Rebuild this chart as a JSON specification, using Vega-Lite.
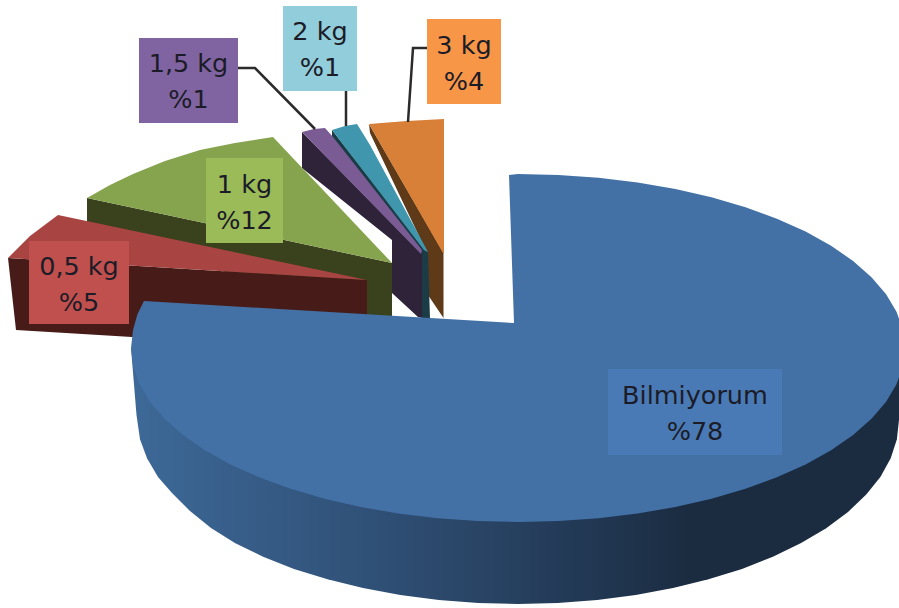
{
  "$schema": "https://vega.github.io/schema/vega-lite/v6.json",
  "width": 899,
  "height": 608,
  "padding": 0,
  "autosize": "none",
  "background": "#ffffff",
  "view": {"stroke": null},
  "datasets": {
    "wedges": [
      {"part":"3 kg side","i":1,"x":369,"y":124},{"part":"3 kg side","i":2,"x":443.5,"y":253},{"part":"3 kg side","i":3,"x":443.5,"y":318},{"part":"3 kg side","i":4,"x":428,"y":295},{"part":"3 kg side","i":5,"x":428,"y":255},{"part":"3 kg side","i":6,"x":370,"y":133},
      {"part":"3 kg top","i":1,"x":369,"y":124},{"part":"3 kg top","i":2,"x":407,"y":121},{"part":"3 kg top","i":3,"x":444,"y":119},{"part":"3 kg top","i":4,"x":444,"y":253},{"part":"3 kg top","i":5,"x":443,"y":253},
      {"part":"2 kg side","i":1,"x":332,"y":130},{"part":"2 kg side","i":2,"x":428,"y":253},{"part":"2 kg side","i":3,"x":430,"y":319},{"part":"2 kg side","i":4,"x":422,"y":319},{"part":"2 kg side","i":5,"x":420,"y":250},{"part":"2 kg side","i":6,"x":332,"y":137},
      {"part":"2 kg top","i":1,"x":332,"y":130},{"part":"2 kg top","i":2,"x":345,"y":126},{"part":"2 kg top","i":3,"x":357,"y":124},{"part":"2 kg top","i":4,"x":370,"y":145},{"part":"2 kg top","i":5,"x":428,"y":252},{"part":"2 kg top","i":6,"x":424,"y":250},
      {"part":"1,5 kg side","i":1,"x":302,"y":132},{"part":"1,5 kg side","i":2,"x":422,"y":254},{"part":"1,5 kg side","i":3,"x":422,"y":318},{"part":"1,5 kg side","i":4,"x":418,"y":317},{"part":"1,5 kg side","i":5,"x":392,"y":293},{"part":"1,5 kg side","i":6,"x":392,"y":240},{"part":"1,5 kg side","i":7,"x":302,"y":168},
      {"part":"1,5 kg top","i":1,"x":302,"y":132},{"part":"1,5 kg top","i":2,"x":314,"y":129},{"part":"1,5 kg top","i":3,"x":325,"y":128},{"part":"1,5 kg top","i":4,"x":333,"y":137},{"part":"1,5 kg top","i":5,"x":422,"y":250},{"part":"1,5 kg top","i":6,"x":421,"y":254},
      {"part":"1 kg side","i":1,"x":87,"y":198},{"part":"1 kg side","i":2,"x":392,"y":263},{"part":"1 kg side","i":3,"x":392,"y":318},{"part":"1 kg side","i":4,"x":360,"y":318},{"part":"1 kg side","i":5,"x":87,"y":225},
      {"part":"1 kg top","i":1,"x":87,"y":198},{"part":"1 kg top","i":2,"x":110,"y":185},{"part":"1 kg top","i":3,"x":133,"y":174},{"part":"1 kg top","i":4,"x":165,"y":161},{"part":"1 kg top","i":5,"x":200,"y":150},{"part":"1 kg top","i":6,"x":235,"y":143},{"part":"1 kg top","i":7,"x":273,"y":137},{"part":"1 kg top","i":8,"x":392,"y":263},
      {"part":"0,5 kg side","i":1,"x":8,"y":258},{"part":"0,5 kg side","i":2,"x":367,"y":280},{"part":"0,5 kg side","i":3,"x":367,"y":325},{"part":"0,5 kg side","i":4,"x":132,"y":337},{"part":"0,5 kg side","i":5,"x":16,"y":330},
      {"part":"0,5 kg top","i":1,"x":8,"y":258},{"part":"0,5 kg top","i":2,"x":30,"y":236},{"part":"0,5 kg top","i":3,"x":58,"y":215},{"part":"0,5 kg top","i":4,"x":367,"y":280}
    ],
    "bigSide": [
      {"i":1,"x":905,"y":348},{"i":2,"x":899,"y":420},{"i":3,"x":896.9,"y":439.2},{"i":4,"x":890.7,"y":458.3},{"i":5,"x":880.4,"y":476.9},{"i":6,"x":866,"y":494.8},{"i":7,"x":848,"y":512},{"i":8,"x":826.2,"y":528.2},{"i":9,"x":801.1,"y":543.1},{"i":10,"x":772.9,"y":556.7},{"i":11,"x":742,"y":568.9},{"i":12,"x":708.5,"y":579.3},{"i":13,"x":673,"y":588.1},{"i":14,"x":635.7,"y":595},{"i":15,"x":597.2,"y":600},{"i":16,"x":557.8,"y":603},{"i":17,"x":518,"y":604},
      {"i":18,"x":478.2,"y":603},{"i":19,"x":438.8,"y":600},{"i":20,"x":400.3,"y":595},{"i":21,"x":363,"y":588.1},{"i":22,"x":327.5,"y":579.3},{"i":23,"x":294,"y":568.9},{"i":24,"x":263.1,"y":556.7},{"i":25,"x":234.9,"y":543.1},{"i":26,"x":211,"y":528},{"i":27,"x":190,"y":511},{"i":28,"x":172,"y":493},{"i":29,"x":158,"y":477},{"i":30,"x":147,"y":458.3},{"i":31,"x":140,"y":439.2},{"i":32,"x":136.5,"y":415},{"i":33,"x":131,"y":348}
    ],
    "bigTop": [
      {"i":1,"x":509,"y":175},{"i":2,"x":518,"y":174},{"i":3,"x":558.4,"y":175},{"i":4,"x":598.5,"y":177.8},{"i":5,"x":637.6,"y":182.5},{"i":6,"x":675.4,"y":189},{"i":7,"x":711.5,"y":197.3},{"i":8,"x":745.5,"y":207.2},{"i":9,"x":776.9,"y":218.7},{"i":10,"x":805.6,"y":231.6},{"i":11,"x":831.1,"y":245.7},{"i":12,"x":853.1,"y":261},{"i":13,"x":871.5,"y":277.2},{"i":14,"x":886.1,"y":294.2},{"i":15,"x":896.5,"y":311.8},{"i":16,"x":902.9,"y":329.8},{"i":17,"x":905,"y":348},
      {"i":18,"x":902.9,"y":366.2},{"i":19,"x":896.5,"y":384.2},{"i":20,"x":886.1,"y":401.8},{"i":21,"x":871.5,"y":418.8},{"i":22,"x":853.1,"y":435},{"i":23,"x":831.1,"y":450.3},{"i":24,"x":805.6,"y":464.4},{"i":25,"x":776.9,"y":477.3},{"i":26,"x":745.5,"y":488.8},{"i":27,"x":711.5,"y":498.7},{"i":28,"x":675.4,"y":507},{"i":29,"x":637.6,"y":513.5},{"i":30,"x":598.5,"y":518.2},{"i":31,"x":558.4,"y":521},{"i":32,"x":518,"y":522},
      {"i":33,"x":477.6,"y":521},{"i":34,"x":437.5,"y":518.2},{"i":35,"x":398.4,"y":513.5},{"i":36,"x":360.6,"y":507},{"i":37,"x":324.5,"y":498.7},{"i":38,"x":290.5,"y":488.8},{"i":39,"x":259.1,"y":477.3},{"i":40,"x":230.4,"y":464.4},{"i":41,"x":204.9,"y":450.3},{"i":42,"x":182.9,"y":435},{"i":43,"x":164.5,"y":418.8},{"i":44,"x":149.9,"y":401.8},{"i":45,"x":139.5,"y":384.2},{"i":46,"x":133.1,"y":366.2},{"i":47,"x":131,"y":348},
      {"i":48,"x":133.1,"y":329.8},{"i":49,"x":137.5,"y":314},{"i":50,"x":144,"y":301},{"i":51,"x":514,"y":323}
    ],
    "leaders": [
      {"name":"1,5 kg","i":1,"x":238,"y":68},{"name":"1,5 kg","i":2,"x":255,"y":68},{"name":"1,5 kg","i":3,"x":315,"y":129},
      {"name":"2 kg","i":1,"x":346,"y":91},{"name":"2 kg","i":2,"x":346,"y":126},
      {"name":"3 kg","i":1,"x":427,"y":48},{"name":"3 kg","i":2,"x":413,"y":48},{"name":"3 kg","i":3,"x":408,"y":122}
    ],
    "slices": [
      {"name":"Bilmiyorum","value":78,"share":"%78","left":608,"right":782,"upper":369,"lower":455,"midX":695,"midY":413.5},
      {"name":"0,5 kg","value":5,"share":"%5","left":29,"right":129,"upper":241,"lower":324,"midX":79,"midY":285},
      {"name":"1 kg","value":12,"share":"%12","left":206,"right":283,"upper":158,"lower":243,"midX":244.5,"midY":202.5},
      {"name":"1,5 kg","value":1,"share":"%1","left":139,"right":238,"upper":38,"lower":123,"midX":188.5,"midY":81.5},
      {"name":"2 kg","value":1,"share":"%1","left":283,"right":357,"upper":6,"lower":91,"midX":320,"midY":50},
      {"name":"3 kg","value":4,"share":"%4","left":427,"right":501,"upper":19,"lower":104,"midX":464,"midY":63.5}
    ]
  },
  "encoding": {
    "x": {"type": "quantitative", "axis": null, "scale": {"domain": [0, 899], "range": [0, 899], "nice": false, "zero": false}},
    "y": {"type": "quantitative", "axis": null, "scale": {"domain": [0, 608], "range": [0, 608], "nice": false, "zero": false}}
  },
  "layer": [
    {
      "data": {"name": "wedges"},
      "mark": {"type": "line", "filled": true, "strokeWidth": 0, "clip": true},
      "encoding": {
        "x": {"field": "x", "type": "quantitative"},
        "y": {"field": "y", "type": "quantitative"},
        "order": {"field": "i", "type": "quantitative"},
        "color": {
          "field": "part",
          "type": "nominal",
          "legend": null,
          "scale": {
            "domain": ["3 kg side","3 kg top","2 kg side","2 kg top","1,5 kg side","1,5 kg top","1 kg side","1 kg top","0,5 kg side","0,5 kg top"],
            "range": ["#5e3a19","#d87f38","#1b3c47","#3f96ad","#2e2339","#7a5b94","#3a421d","#86a34d","#471c18","#a84442"]
          }
        }
      }
    },
    {
      "data": {"name": "bigSide"},
      "mark": {
        "type": "line",
        "filled": true,
        "strokeWidth": 0,
        "clip": true,
        "fill": {
          "gradient": "linear", "x1": 0, "x2": 1, "y1": 0, "y2": 0,
          "stops": [
            {"offset": 0, "color": "#3d6998"},
            {"offset": 0.35, "color": "#2e4d72"},
            {"offset": 0.6, "color": "#213752"},
            {"offset": 0.72, "color": "#1b2c41"},
            {"offset": 1, "color": "#1b2c41"}
          ]
        }
      },
      "encoding": {
        "x": {"field": "x", "type": "quantitative"},
        "y": {"field": "y", "type": "quantitative"},
        "order": {"field": "i", "type": "quantitative"}
      }
    },
    {
      "data": {"name": "bigTop"},
      "mark": {"type": "line", "filled": true, "strokeWidth": 0, "fill": "#4371a6", "clip": true},
      "encoding": {
        "x": {"field": "x", "type": "quantitative"},
        "y": {"field": "y", "type": "quantitative"},
        "order": {"field": "i", "type": "quantitative"}
      }
    },
    {
      "data": {"name": "leaders"},
      "mark": {"type": "line", "stroke": "#2b2b2b", "strokeWidth": 2.5},
      "encoding": {
        "x": {"field": "x", "type": "quantitative"},
        "y": {"field": "y", "type": "quantitative"},
        "detail": {"field": "name"},
        "order": {"field": "i", "type": "quantitative"}
      }
    },
    {
      "data": {"name": "slices"},
      "mark": {"type": "rect"},
      "encoding": {
        "x": {"field": "left", "type": "quantitative"},
        "x2": {"field": "right"},
        "y": {"field": "upper", "type": "quantitative"},
        "y2": {"field": "lower"},
        "color": {
          "field": "name",
          "type": "nominal",
          "legend": null,
          "scale": {
            "domain": ["Bilmiyorum","0,5 kg","1 kg","1,5 kg","2 kg","3 kg"],
            "range": ["#4a7ab5","#c0504d","#9bbb59","#8064a2","#92cddc","#f79646"]
          }
        }
      }
    },
    {
      "data": {"name": "slices"},
      "mark": {"type": "text", "font": "DejaVu Sans", "fontSize": 25.5, "color": "#1c1c28", "baseline": "middle", "align": "center", "dy": -18},
      "encoding": {
        "x": {"field": "midX", "type": "quantitative"},
        "y": {"field": "midY", "type": "quantitative"},
        "text": {"field": "name"}
      }
    },
    {
      "data": {"name": "slices"},
      "mark": {"type": "text", "font": "DejaVu Sans", "fontSize": 25.5, "color": "#1c1c28", "baseline": "middle", "align": "center", "dy": 18},
      "encoding": {
        "x": {"field": "midX", "type": "quantitative"},
        "y": {"field": "midY", "type": "quantitative"},
        "text": {"field": "share"}
      }
    }
  ],
  "resolve": {"scale": {"color": "independent"}}
}
